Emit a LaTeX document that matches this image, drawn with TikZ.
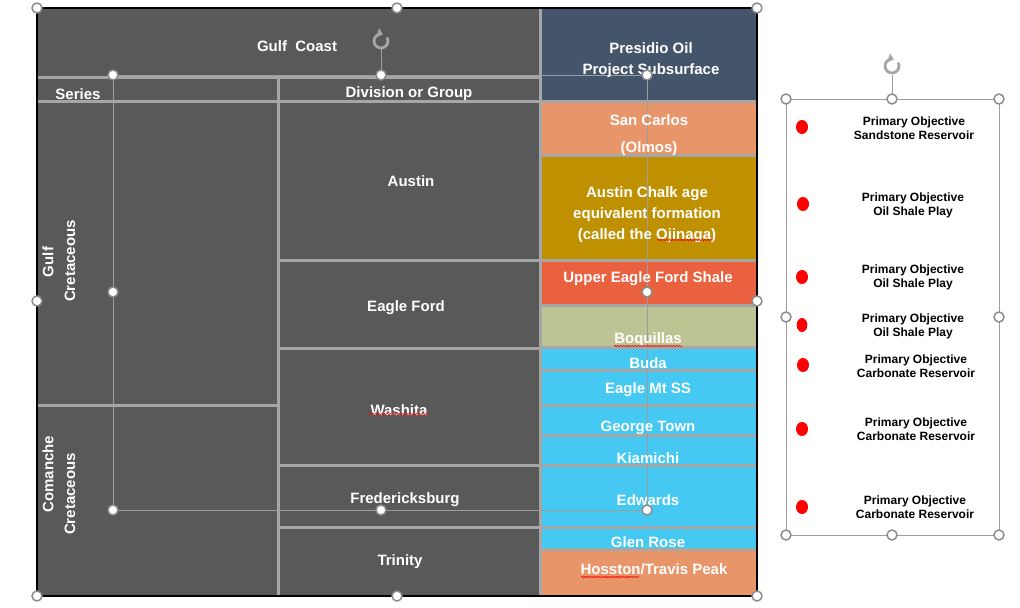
\documentclass[tikz,border=0pt]{standalone}
\usepackage{fontspec}
\setmainfont{Liberation Sans}
\usetikzlibrary{decorations.pathmorphing,arrows.meta,shapes.geometric}
\definecolor{cellgray}{HTML}{595959}
\definecolor{gridgray}{HTML}{A6A6A6}
\definecolor{presidio}{HTML}{44546A}
\definecolor{salmon}{HTML}{E9956A}
\definecolor{chalk}{HTML}{BF9000}
\definecolor{shale}{HTML}{EA6140}
\definecolor{khaki}{HTML}{BDC393}
\definecolor{skyblue}{HTML}{45C8F2}
\definecolor{handlegray}{HTML}{8C8C8C}
\tikzset{
  wtbase/.style={text=white, font=\fontsize{11.25}{15.75}\selectfont\bfseries, inner sep=0pt, align=center},
  wt/.style={wtbase, yshift=-1.5pt},
  lbl/.style={text=black, font=\fontsize{9}{10.5}\selectfont\bfseries, inner sep=0pt, align=center},
  gridline/.style={draw=gridgray, line width=2.25pt},
  selline/.style={draw=handlegray!85, line width=0.75pt},
  handle/.style={circle, draw=handlegray, fill=white, line width=1.1pt, minimum size=7.5pt, inner sep=0pt},
  reddot/.style={ellipse, fill=red, minimum width=9pt, minimum height=10.5pt, inner sep=0pt},
  squiggle/.style={draw=red, line width=0.45pt, decorate, decoration={snake, amplitude=0.55pt, segment length=2.2pt}},
  roticon/.pic={\draw[draw=gridgray, line width=2.1pt, -{Triangle[length=4pt,width=7pt]}] (-30:7) arc[start angle=-30, end angle=285, radius=7];}
}
\begin{document}
\begin{tikzpicture}[x=0.75pt,y=-0.75pt]
\useasboundingbox (0,0) rectangle (1020,607);
% table background
\fill[cellgray] (37,8) rectangle (757,596);
% right column fills
\fill[presidio] (541,8) rectangle (757,101);
\fill[salmon] (541,101) rectangle (757,155);
\fill[chalk] (541,155) rectangle (757,260);
\fill[shale] (541,260) rectangle (757,305);
\fill[khaki] (541,305) rectangle (757,347);
\fill[skyblue] (541,347) rectangle (757,549);
\fill[salmon] (541,549) rectangle (757,596);
% grid lines
\draw[gridline] (37,77) -- (540,77);
\draw[gridline] (37,101) -- (757,101);
\draw[gridline] (540,8) -- (540,596);
\draw[gridline] (278,77) -- (278,596);
\draw[gridline] (37,405) -- (278,405);
\foreach \yy in {260,348,465,527} \draw[gridline] (278,\yy) -- (540,\yy);
\foreach \yy in {155,260,305,347,370,405,435,465,527,549} \draw[gridline] (540,\yy) -- (757,\yy);
% outer border
\draw[black, line width=1.5pt] (37,8) rectangle (757,596);
% inner selection frame
\draw[selline] (113,75) rectangle (647,510);
\draw[selline] (381,49) -- (381,75);
\pic at (381,41) {roticon};
% right box frame
\draw[selline] (786,99) rectangle (999,535);
\draw[selline] (892,75) -- (892,99);
\pic at (892,66) {roticon};

% texts: header
\node[wt] (gulfcoast) at (297,44) {Gulf\ \ Coast};
\node[wt] (series) at (78,92) {Series};
\node[wt] (division) at (409,92) {Division or Group};
\node[wtbase, rotate=90] (gulf) at (48,262) {Gulf};
\node[wtbase, rotate=90] (cret1) at (70,261) {Cretaceous};
\node[wtbase, rotate=90] (comanche) at (48,474) {Comanche};
\node[wtbase, rotate=90] (cret2) at (70,494) {Cretaceous};
% middle column
\node[wt] (austin) at (411,179) {Austin};
\node[wt] (eagleford) at (406,306) {Eagle Ford};
\node[wt] (washita) at (399,408) {Washita};
\node[wt] (fredericksburg) at (405,498) {Fredericksburg};
\node[wt] (trinity) at (400,560) {Trinity};
% right column
\node[wt] (presidio) at (651,58) {Presidio Oil\\Project Subsurface};
\node[wt] (sancarlos) at (649,118) {San Carlos};
\node[wt] (olmos) at (649,147) {(Olmos)};
\node[wt] (chalktext) at (647,213) {Austin Chalk age\\equivalent formation\\(called the Ojinaga)};
\node[wt] (upperef) at (648,277) {Upper Eagle Ford Shale};
\node[wt] (boquillas) at (648,338) {Boquillas};
\node[wt] (buda) at (648,361) {Buda};
\node[wt] (eaglemt) at (648,388) {Eagle Mt SS};
\node[wt] (georgetown) at (648,426) {George Town};
\node[wt] (kiamichi) at (648,456) {Kiamichi};
\node[wt] (edwards) at (648,498) {Edwards};
\node[wt] (glenrose) at (648,540) {Glen Rose};
\node[wt] (hosston) at (654,567) {Hosston/Travis Peak};
% spelling squiggles
\draw[squiggle] (369,414) -- (429,414);
\draw[squiggle] (657,240) -- (713,240);
\draw[squiggle] (614,346) -- (682,346);
\draw[squiggle] (581,577) -- (639,577);

% legend box
\node[reddot] (d1) at (802,127) {};
\node[reddot] (d2) at (803,204) {};
\node[reddot] (d3) at (802,277) {};
\node[reddot, minimum width=8pt] (d4) at (802,325) {};
\node[reddot] (d5) at (803,365) {};
\node[reddot] (d6) at (802,429) {};
\node[reddot] (d7) at (802,507) {};
\node[lbl] (l1) at (914,128) {Primary Objective\\Sandstone Reservoir};
\node[lbl] (l2) at (913,205) {Primary Objective\\Oil Shale Play};
\node[lbl] (l3) at (913,277) {Primary Objective\\Oil Shale Play};
\node[lbl] (l4) at (913,326) {Primary Objective\\Oil Shale Play};
\node[lbl] (l5) at (916,366) {Primary Objective\\Carbonate Reservoir};
\node[lbl] (l6) at (916,429) {Primary Objective\\Carbonate Reservoir};
\node[lbl] (l7) at (915,507) {Primary Objective\\Carbonate Reservoir};

% handles: outer table
\foreach \hx/\hy in {37/8,397/8,757/8,37/301,757/301,37/596,397/596,757/596}
  \node[handle] at (\hx,\hy) {};
% handles: inner selection
\foreach \hx/\hy in {113/75,381/75,647/75,113/292,647/292,113/510,381/510,647/510}
  \node[handle] at (\hx,\hy) {};
% handles: legend box
\foreach \hx/\hy in {786/99,892/99,999/99,786/317,999/317,786/535,892/535,999/535}
  \node[handle] at (\hx,\hy) {};
\end{tikzpicture}
\end{document}
